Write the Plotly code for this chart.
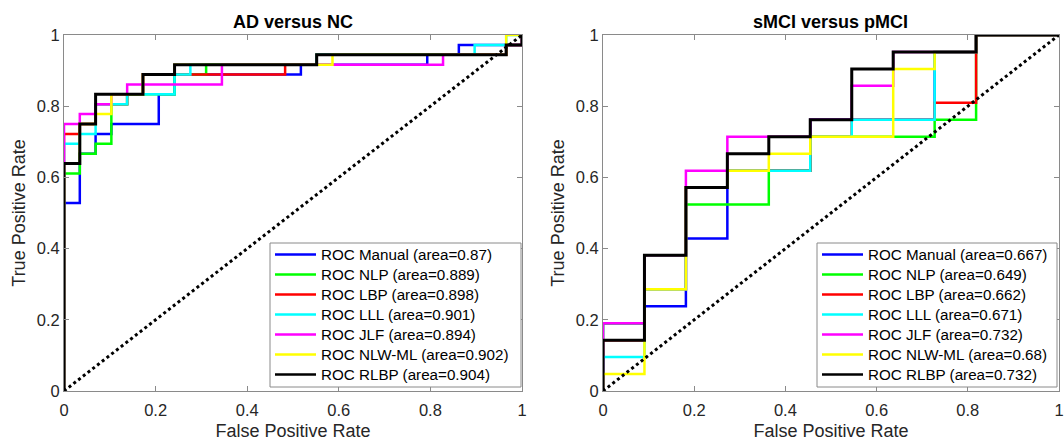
import plotly.graph_objects as go

# ---------------- data ----------------
names = ["ROC Manual", "ROC NLP", "ROC LBP", "ROC LLL", "ROC JLF", "ROC NLW-ML", "ROC RLBP"]
colors = ["#0000FF", "#00FF00", "#FF0000", "#00FFFF", "#FF00FF", "#FFFF00", "#000000"]

# AD versus NC  (step ROC vertices)
ad_area = ["0.87", "0.889", "0.898", "0.901", "0.894", "0.902", "0.904"]
ad_fpr_manual = [0, 0, 0.0345, 0.0690, 0.1034, 0.2069, 0.2414, 0.5172, 0.7931, 0.8621, 1.0]
ad_tpr_manual = [0, 0.5278, 0.6667, 0.7222, 0.75, 0.8333, 0.8889, 0.9167, 0.9444, 0.9722, 1.0]
ad_fpr_nlp = [0, 0, 0.0345, 0.0690, 0.1034, 0.1379, 0.2414, 0.3103, 0.5517, 0.9655, 1.0]
ad_tpr_nlp = [0, 0.6111, 0.6667, 0.6944, 0.8056, 0.8333, 0.8889, 0.9167, 0.9444, 0.9722, 1.0]
ad_fpr_lbp = [0, 0, 0.0345, 0.0690, 0.1379, 0.1724, 0.4828, 0.5517, 0.9655, 1.0]
ad_tpr_lbp = [0, 0.7222, 0.75, 0.8056, 0.8333, 0.8889, 0.9167, 0.9444, 0.9722, 1.0]
ad_fpr_lll = [0, 0, 0.0345, 0.0690, 0.1379, 0.2414, 0.2759, 0.5517, 0.8966, 0.9655, 1.0]
ad_tpr_lll = [0, 0.6944, 0.7222, 0.8056, 0.8333, 0.8889, 0.9167, 0.9444, 0.9722, 1.0, 1.0]
ad_fpr_jlf = [0, 0, 0.0345, 0.0690, 0.1034, 0.1379, 0.3448, 0.8276, 0.9655, 1.0]
ad_tpr_jlf = [0, 0.75, 0.7778, 0.8056, 0.8333, 0.8611, 0.9167, 0.9444, 0.9722, 1.0]
ad_fpr_nlw = [0, 0, 0.0345, 0.0690, 0.1034, 0.1724, 0.2414, 0.5862, 0.9655, 1.0]
ad_tpr_nlw = [0, 0.6389, 0.75, 0.7778, 0.8333, 0.8889, 0.9167, 0.9444, 1.0, 1.0]
ad_fpr_rlbp = [0, 0, 0.0345, 0.0690, 0.1724, 0.2414, 0.5517, 0.9655, 1.0]
ad_tpr_rlbp = [0, 0.6389, 0.75, 0.8333, 0.8889, 0.9167, 0.9444, 0.9722, 1.0]

# sMCI versus pMCI
mci_area = ["0.667", "0.649", "0.662", "0.671", "0.732", "0.68", "0.732"]
mci_fpr_manual = [0, 0, 0.0909, 0.1818, 0.2727, 0.4545, 0.7273, 0.8182, 1.0]
mci_tpr_manual = [0, 0.1905, 0.2381, 0.4286, 0.6190, 0.7619, 0.9524, 1.0, 1.0]
mci_fpr_nlp = [0, 0, 0.0909, 0.1818, 0.3636, 0.4545, 0.7273, 0.8182, 1.0]
mci_tpr_nlp = [0, 0.1905, 0.3810, 0.5238, 0.6190, 0.7143, 0.7619, 1.0, 1.0]
mci_fpr_lbp = [0, 0, 0.0909, 0.1818, 0.2727, 0.4545, 0.5455, 0.7273, 0.8182, 1.0]
mci_tpr_lbp = [0, 0.1429, 0.2857, 0.5714, 0.6190, 0.7143, 0.7619, 0.8095, 1.0, 1.0]
mci_fpr_lll = [0, 0, 0.0909, 0.1818, 0.2727, 0.4545, 0.5455, 0.7273, 0.8182, 1.0]
mci_tpr_lll = [0, 0.0952, 0.2857, 0.5714, 0.6190, 0.7143, 0.7619, 0.9524, 1.0, 1.0]
mci_fpr_jlf = [0, 0, 0.0909, 0.1818, 0.2727, 0.4545, 0.5455, 0.6364, 0.8182, 1.0]
mci_tpr_jlf = [0, 0.1905, 0.3810, 0.6190, 0.7143, 0.7619, 0.8571, 0.9524, 1.0, 1.0]
mci_fpr_nlw = [0, 0, 0.0909, 0.1818, 0.2727, 0.3636, 0.4545, 0.6364, 0.7273, 0.8182, 1.0]
mci_tpr_nlw = [0, 0.0476, 0.2857, 0.5714, 0.6190, 0.6667, 0.7143, 0.9048, 0.9524, 1.0, 1.0]
mci_fpr_rlbp = [0, 0, 0.0909, 0.1818, 0.2727, 0.3636, 0.4545, 0.5455, 0.6364, 0.8182, 1.0]
mci_tpr_rlbp = [0, 0.1429, 0.3810, 0.5714, 0.6667, 0.7143, 0.7619, 0.9048, 0.9524, 1.0, 1.0]

titles = ["AD versus NC", "sMCI versus pMCI"]
tick_vals = [0, 0.2, 0.4, 0.6, 0.8, 1]
tick_text = ["0", "0.2", "0.4", "0.6", "0.8", "1"]

ad_curves = [(ad_fpr_manual, ad_tpr_manual), (ad_fpr_nlp, ad_tpr_nlp), (ad_fpr_lbp, ad_tpr_lbp),
             (ad_fpr_lll, ad_tpr_lll), (ad_fpr_jlf, ad_tpr_jlf), (ad_fpr_nlw, ad_tpr_nlw),
             (ad_fpr_rlbp, ad_tpr_rlbp)]
mci_curves = [(mci_fpr_manual, mci_tpr_manual), (mci_fpr_nlp, mci_tpr_nlp), (mci_fpr_lbp, mci_tpr_lbp),
              (mci_fpr_lll, mci_tpr_lll), (mci_fpr_jlf, mci_tpr_jlf), (mci_fpr_nlw, mci_tpr_nlw),
              (mci_fpr_rlbp, mci_tpr_rlbp)]

FONT = "Arial, Liberation Sans, sans-serif"
TXT = "#262626"
GRAY = "#8a8a8a"

W, H = 1064, 441
ML, MR, MT, MB = 64, 5, 35, 50
PW, PH = W - ML - MR, H - MT - MB


def px(xpix):
    return (xpix - ML) / PW


def py(ypix):
    return (H - MB - ypix) / PH


fig = go.Figure()

for panel, (curves, areas) in enumerate([(ad_curves, ad_area), (mci_curves, mci_area)]):
    xa = "x" if panel == 0 else "x2"
    ya = "y" if panel == 0 else "y2"
    for i, (fx, ty) in enumerate(curves):
        fig.add_trace(go.Scatter(
            x=fx, y=ty, mode="lines", line_shape="hv",
            line=dict(color=colors[i], width=3 if i == 6 else 2.5),
            name=f"{names[i]} (area={areas[i]})", showlegend=False,
            xaxis=xa, yaxis=ya))
    fig.add_trace(go.Scatter(
        x=[0, 1], y=[0, 1], mode="lines",
        line=dict(color="black", width=3, dash="dot"),
        showlegend=False, xaxis=xa, yaxis=ya))

axis_common = dict(range=[0, 1], tickvals=tick_vals, ticktext=tick_text, automargin=False,
                   showgrid=False, zeroline=False, showline=True, linecolor=GRAY,
                   linewidth=1, mirror="ticks", ticks="inside", ticklen=5,
                   ticklabeloverflow="allow",
                   tickcolor=GRAY, tickfont=dict(family=FONT, size=16.5, color=TXT))
title_font = dict(size=18, family=FONT, color=TXT)

d1 = 458 / PW
d2 = 539 / PW

# legend drawn as boxes + sample lines + text (MATLAB-style compact legend)
shapes = []
annotations = []
legend_boxes = [(270, 521), (817, 1057)]
for panel, areas in enumerate([ad_area, mci_area]):
    x0, x1 = legend_boxes[panel]
    shapes.append(dict(type="rect", xref="paper", yref="paper",
                       x0=px(x0), x1=px(x1), y0=py(387), y1=py(243),
                       line=dict(color=GRAY, width=1), fillcolor="white", layer="above"))
    for i in range(7):
        yc = 254.5 + 20 * i
        shapes.append(dict(type="line", xref="paper", yref="paper",
                           x0=px(x0 + 5), x1=px(x0 + 46), y0=py(yc), y1=py(yc),
                           line=dict(color=colors[i], width=2.5), layer="above"))
        annotations.append(dict(text=f"{names[i]} (area={areas[i]})", xref="paper", yref="paper",
                                x=px(x0 + 49), y=py(yc), xanchor="left", yanchor="middle",
                                showarrow=False, font=dict(family=FONT, size=15.2, color="black")))

annotations += [
    dict(text=f"<b>{titles[0]}</b>", x=d1 / 2, y=1.0, xref="paper", yref="paper",
         xanchor="center", yanchor="middle", yshift=13, showarrow=False,
         font=dict(family=FONT, size=18, color="black")),
    dict(text=f"<b>{titles[1]}</b>", x=(d2 + 1) / 2, y=1.0, xref="paper", yref="paper",
         xanchor="center", yanchor="middle", yshift=13, showarrow=False,
         font=dict(family=FONT, size=18, color="black")),
]

fig.update_layout(
    width=W, height=H,
    margin=dict(l=ML, r=MR, t=MT, b=MB),
    plot_bgcolor="white", paper_bgcolor="white",
    font=dict(family=FONT, color=TXT),
    showlegend=False,
    xaxis=dict(domain=[0, d1], anchor="y", ticklabelstandoff=4,
               title=dict(text="False Positive Rate", font=title_font, standoff=8), **axis_common),
    yaxis=dict(domain=[0, 1], anchor="x",
               title=dict(text="True Positive Rate", font=title_font, standoff=6), **axis_common),
    xaxis2=dict(domain=[d2, 1], anchor="y2", ticklabelstandoff=4,
                title=dict(text="False Positive Rate", font=title_font, standoff=8), **axis_common),
    yaxis2=dict(domain=[0, 1], anchor="x2",
                title=dict(text="True Positive Rate", font=title_font, standoff=6), **axis_common),
    shapes=shapes,
    annotations=annotations,
)

fig.write_html("out.html", config={"displayModeBar": False},
               post_script="document.body.style.margin='0px';")
